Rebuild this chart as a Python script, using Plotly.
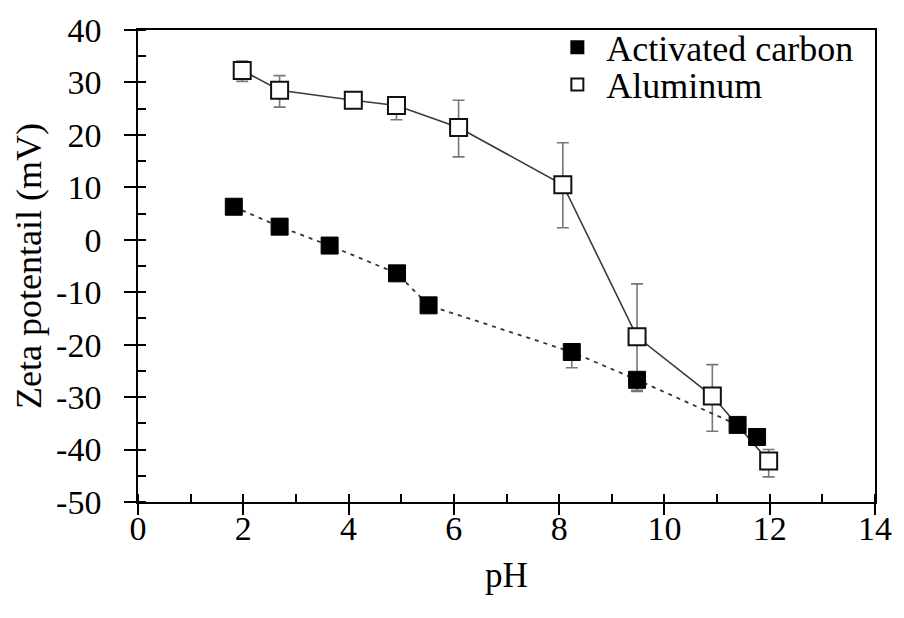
import plotly.graph_objects as go

# Activated carbon (filled squares, dashed line)
ac_ph = [1.82, 2.69, 3.64, 4.92, 5.52, 8.24, 9.48, 11.39, 11.76]
ac_zeta = [6.3, 2.5, -1.1, -6.4, -12.5, -21.4, -26.7, -35.3, -37.6]
ac_err_plus = [0.5, 0.5, 0.5, 0.5, 0.5, 1.5, 0.5, 0.5, 0.5]
ac_err_minus = [0.5, 0.5, 0.5, 0.5, 0.5, 3.0, 2.2, 0.5, 0.5]

# Aluminum (open squares, solid line)
al_ph = [1.98, 2.69, 4.09, 4.91, 6.09, 8.07, 9.48, 10.91, 11.98]
al_zeta = [32.3, 28.5, 26.6, 25.6, 21.4, 10.5, -18.5, -29.8, -42.2]
al_err_plus = [1.8, 2.8, 0.6, 0.5, 5.2, 8.0, 10.1, 6.0, 2.2]
al_err_minus = [2.1, 3.2, 0.6, 2.7, 5.6, 8.2, 10.2, 6.7, 3.0]

x_ticks = [0, 2, 4, 6, 8, 10, 12, 14]
x_labels = ["0", "2", "4", "6", "8", "10", "12", "14"]
y_ticks = [40, 30, 20, 10, 0, -10, -20, -30, -40, -50]
y_labels = ["40", "30", "20", "10", "0", "-10", "-20", "-30", "-40", "-50"]

FONT = "Times New Roman"
SZ = 17


def serif(lbl):
    return "<span style='font-family:Times New Roman'>" + lbl + "</span>"


fig = go.Figure()

fig.add_trace(go.Scatter(
    x=al_ph, y=al_zeta, mode="lines+markers", showlegend=False,
    line=dict(color="#3a3a3a", width=1.6),
    marker=dict(symbol="square", size=SZ, color="white", line=dict(color="#111", width=2)),
    error_y=dict(type="data", array=al_err_plus, arrayminus=al_err_minus, color="#777",
                 thickness=1.6, width=6),
))
fig.add_trace(go.Scatter(
    x=ac_ph, y=ac_zeta, mode="lines+markers", showlegend=False,
    line=dict(color="#333", width=1.8, dash="4px,5px"),
    marker=dict(symbol="square", size=SZ, color="black", line=dict(color="black", width=1)),
    error_y=dict(type="data", array=ac_err_plus, arrayminus=ac_err_minus, color="#777",
                 thickness=1.6, width=6),
))

# legend entries (marker only)
fig.add_trace(go.Scatter(x=[None], y=[None], mode="markers", name="\u00a0Activated carbon",
                         legend="legend",
                         marker=dict(symbol="square", size=SZ, color="black",
                                     line=dict(color="black", width=1))))
fig.add_trace(go.Scatter(x=[None], y=[None], mode="markers", name="\u00a0Aluminum",
                         legend="legend2",
                         marker=dict(symbol="square", size=SZ, color="white",
                                     line=dict(color="#111", width=1.5))))

axis_common = dict(showgrid=False, zeroline=False, linecolor="black", linewidth=1.5,
                   tickcolor="black", tickwidth=1.5,
                   tickfont=dict(family=FONT, size=34, color="black"))

leg_common = dict(xanchor="left", yanchor="top", bgcolor="rgba(0,0,0,0)", borderwidth=0,
                  font=dict(family=FONT, size=36, color="black"), itemsizing="constant")

fig.update_layout(
    width=904, height=618,
    margin=dict(l=138, r=21, t=22, b=116),
    paper_bgcolor="white", plot_bgcolor="white",
    font=dict(family=FONT, color="black", size=34),
    xaxis=dict(range=[0, 14], tickvals=x_ticks, ticktext=[serif(t) for t in x_labels],
               ticks="outside", ticklen=11,
               minor=dict(ticks="inside", dtick=1, ticklen=8, tickcolor="black", tickwidth=1.5),
               mirror=True, showline=True, ticklabelstandoff=-16,
               title=dict(text="pH", font=dict(family=FONT, size=35, color="black"), standoff=17),
               **axis_common),
    yaxis=dict(range=[-50, 40], tickvals=y_ticks, ticktext=[serif(t) for t in y_labels],
               ticks="outside", ticklen=12,
               minor=dict(ticks="inside", dtick=5, ticklen=8, tickcolor="black", tickwidth=1.5),
               mirror=True, showline=True, ticklabelstandoff=16,
               title=dict(text="Zeta potentail (mV)", font=dict(family=FONT, size=36, color="black"),
                          standoff=4),
               **axis_common),
    xaxis2=dict(overlaying="x", anchor="y", side="bottom", range=[0, 14], tickvals=x_ticks,
                ticks="inside", ticklen=12, tickcolor="black", tickwidth=1.5,
                showticklabels=False, showline=False, showgrid=False, zeroline=False),
    yaxis2=dict(overlaying="y", anchor="x", side="left", range=[-50, 40], tickvals=y_ticks,
                ticks="inside", ticklen=8, tickcolor="black", tickwidth=1.5,
                showticklabels=False, showline=False, showgrid=False, zeroline=False),
    legend=dict(x=0.569, y=1.027, **leg_common),
    legend2=dict(x=0.569, y=0.948, **leg_common),
)

fig.write_html("out.html")
